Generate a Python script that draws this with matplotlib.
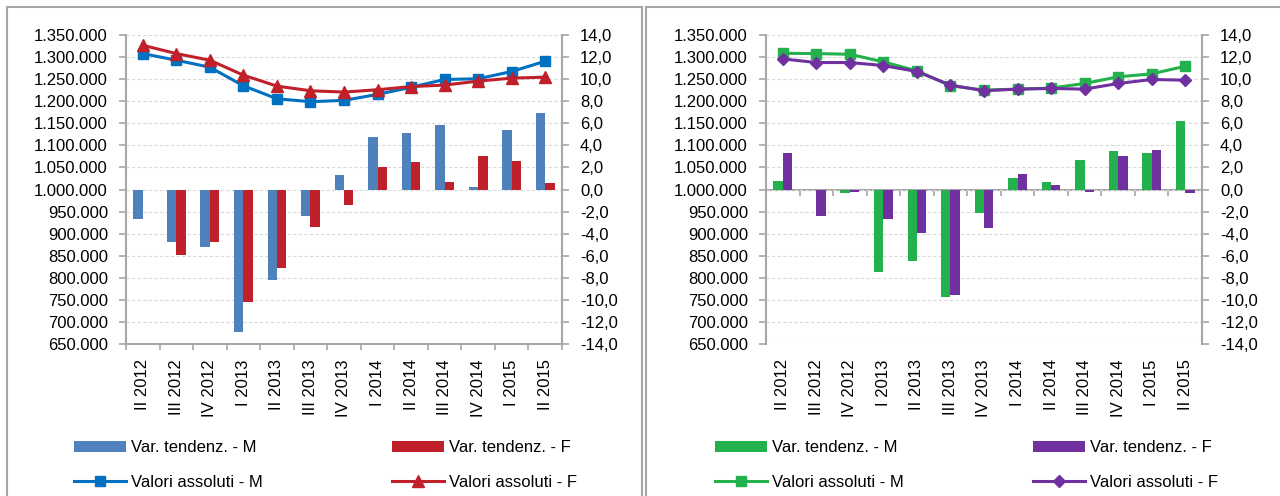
import numpy as np
import matplotlib
matplotlib.use('Agg')
import matplotlib.pyplot as plt
from matplotlib.patches import Rectangle
from matplotlib.ticker import FuncFormatter

# -----------------------------
# Data
# -----------------------------
quarters = ['II 2012', 'III 2012', 'IV 2012', 'I 2013', 'II 2013', 'III 2013', 'IV 2013',
            'I 2014', 'II 2014', 'III 2014', 'IV 2014', 'I 2015', 'II 2015']

# left panel
left_var_m = [-2.7, -4.8, -5.2, -12.9, -8.2, -2.4, 1.3, 4.8, 5.1, 5.8, 0.2, 5.4, 6.9]
left_var_f = [-0.03, -5.9, -4.8, -10.2, -7.1, -3.4, -1.4, 2.0, 2.5, 0.7, 3.0, 2.6, 0.6]
left_abs_m = [1307900, 1292900, 1277000, 1235000, 1205600, 1198900, 1201900,
              1215400, 1231500, 1249300, 1250800, 1267300, 1290600]
left_abs_f = [1326700, 1307900, 1292900, 1259000, 1234200, 1223700, 1220700,
              1226000, 1233200, 1236500, 1245500, 1252300, 1254500]

# right panel
right_var_m = [0.8, -0.03, -0.3, -7.5, -6.5, -9.7, -2.1, 1.0, 0.7, 2.7, 3.5, 3.3, 6.2]
right_var_f = [3.3, -2.4, -0.2, -2.7, -3.9, -9.6, -3.5, 1.4, 0.4, -0.2, 3.0, 3.6, -0.3]
right_abs_m = [1308600, 1307900, 1306400, 1289100, 1268800, 1235000, 1225200,
               1227400, 1229700, 1240200, 1255300, 1262000, 1279300]
right_abs_f = [1295900, 1287600, 1287600, 1280800, 1267300, 1236500, 1223700,
               1227400, 1228900, 1227400, 1240200, 1249200, 1247700]

labels = ['Var. tendenz. - M', 'Var. tendenz. - F', 'Valori assoluti - M', 'Valori assoluti - F']

# -----------------------------
# Style
# -----------------------------
plt.rcParams['font.family'] = ['Liberation Sans', 'DejaVu Sans']
plt.rcParams['font.size'] = 12
SPINE = '#A6A6A6'
GRID = '#D9D9D9'

fmt_abs = FuncFormatter(lambda v, p: f'{int(round(v)):,}'.replace(',', '.'))
fmt_pct = FuncFormatter(lambda v, p: f'{v:.1f}'.replace('.', ','))

fig = plt.figure(figsize=(12.8, 4.96), dpi=100)

# panel frames
fig.add_artist(Rectangle((7 / 1280, -0.1), 635 / 1280, 1.1 - 7 / 496, transform=fig.transFigure,
                         fill=False, edgecolor=SPINE, linewidth=1.5))
fig.add_artist(Rectangle((646 / 1280, -0.1), 650 / 1280, 1.1 - 7 / 496, transform=fig.transFigure,
                         fill=False, edgecolor=SPINE, linewidth=1.5))


def draw_panel(left, var_m, var_f, abs_m, abs_f, col_bm, col_bf, col_lm, col_lf,
               mk_f, ms_f, zero_axis, legend_x):
    x = np.arange(len(quarters))
    ax = fig.add_axes([left / 1280, 1 - 344 / 496, 436 / 1280, 309 / 496])
    w = 0.28
    b1 = ax.bar(x - w / 2, var_m, w, color=col_bm, zorder=2)
    b2 = ax.bar(x + w / 2, var_f, w, color=col_bf, zorder=2)
    ax.set_ylim(-14, 14)
    ax.set_yticks(np.arange(-14, 15, 2))
    ax.yaxis.set_major_formatter(fmt_pct)
    ax.set_xlim(-0.5, len(quarters) - 0.5)
    ax.grid(axis='y', color=GRID, linewidth=0.8, linestyle=(0, (3, 2)))
    ax.set_axisbelow(True)

    # x labels at category centres, tick marks at boundaries
    ax.set_xticks(x)
    ax.set_xticklabels(quarters, rotation=90)
    ax.set_xticks(np.arange(len(quarters) + 1) - 0.5, minor=True)
    ax.tick_params(axis='x', which='major', length=0, pad=11)
    ax.tick_params(axis='x', which='minor', length=4.5, color=SPINE, width=1.2)

    ax.spines['top'].set_visible(False)
    for s in ['left', 'right', 'bottom']:
        ax.spines[s].set_color(SPINE)
        ax.spines[s].set_linewidth(1.5)

    if zero_axis:
        ax.spines['bottom'].set_visible(False)
        ax.tick_params(axis='x', which='minor', length=0)
        sec = ax.secondary_xaxis(0.5)
        sec.set_alignment('bottom')
        sec.set_xticks(np.arange(len(quarters) + 1) - 0.5)
        sec.set_xticklabels([])
        sec.tick_params(length=4.5, color=SPINE, width=1.2)
        for s in sec.spines.values():
            s.set_color(SPINE)
            s.set_linewidth(1.5)

    # absolute values on the twin axis, drawn above the bars
    ax2 = ax.twinx()
    l1, = ax2.plot(x, abs_m, color=col_lm, linewidth=2.2, marker='s', markersize=7)
    l2, = ax2.plot(x, abs_f, color=col_lf, linewidth=2.2, marker=mk_f, markersize=ms_f)
    ax2.set_ylim(650000, 1350000)
    ax2.set_yticks(np.arange(650000, 1350001, 50000))
    ax2.yaxis.set_major_formatter(fmt_abs)
    for s in ax2.spines.values():
        s.set_visible(False)

    # swap sides: percentages right, absolute values left
    ax.yaxis.tick_right()
    ax2.yaxis.tick_left()
    ax.tick_params(axis='y', length=5, pad=8, color=SPINE, width=1.2)
    ax2.tick_params(axis='y', length=5, pad=8, color=SPINE, width=1.2)

    fig.legend([b1, l1, b2, l2], [labels[0], labels[2], labels[1], labels[3]],
               loc='upper left', bbox_to_anchor=(legend_x / 1280, 1 - 440 / 496),
               ncol=2, frameon=False, borderpad=0, borderaxespad=0,
               handlelength=3.1, handleheight=0.65, handletextpad=0.3,
               columnspacing=7.8, labelspacing=1.2, fontsize=12)


draw_panel(126, left_var_m, left_var_f, left_abs_m, left_abs_f,
           '#4F81BD', '#C0202A', '#0070C0', '#C0202A', '^', 8, False, 74)
draw_panel(766, right_var_m, right_var_f, right_abs_m, right_abs_f,
           '#22B14C', '#7030A0', '#22B14C', '#7030A0', 'D', 6, True, 715)

fig.savefig('out.png', dpi=100)
